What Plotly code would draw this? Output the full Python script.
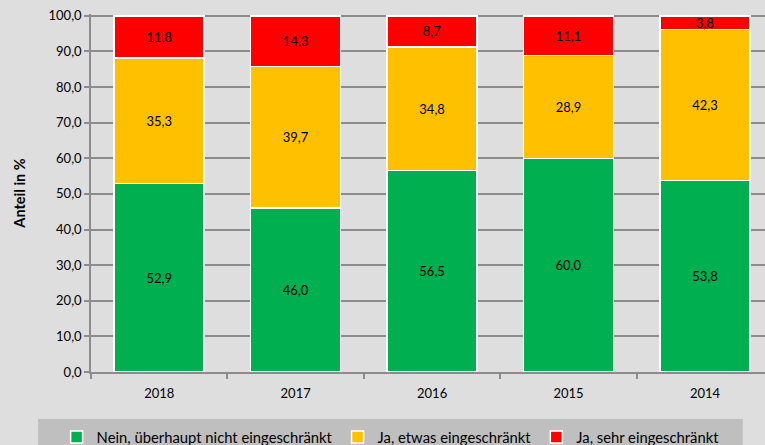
import plotly.graph_objects as go

years = ["2018", "2017", "2016", "2015", "2014"]
nein = [52.9, 46.0, 56.5, 60.0, 53.8]
etwas = [35.3, 39.7, 34.8, 28.9, 42.3]
sehr = [11.8, 14.3, 8.7, 11.1, 3.8]

names = ["Nein, überhaupt nicht eingeschränkt", "Ja, etwas eingeschränkt", "Ja, sehr eingeschränkt"]
colors = ["#00b050", "#ffc000", "#ff0000"]
series = [nein, etwas, sehr]

FONT = "Lato"
fig = go.Figure()
for name, vals, col in zip(names, series, colors):
    fig.add_trace(go.Bar(
        x=years, y=vals, name=name,
        marker=dict(color=col, line=dict(color="white", width=1.5)),
        text=[f"{v:.1f}".replace(".", ",") for v in vals],
        textposition="inside", insidetextanchor="middle",
        constraintext="none",
        textfont=dict(family=FONT, size=13, color="black"),
        width=0.66,
        hoverinfo="skip",
    ))

# legend band behind the legend
fig.add_shape(type="rect", xref="paper", yref="paper", x0=-0.0786, x1=0.967, y0=-0.1316, y1=-0.3,
              fillcolor="#bfbfbf", line=dict(width=0), layer="below")

fig.update_layout(
    barmode="stack",
    width=765, height=445,
    margin=dict(l=91, r=0, t=14, b=73),
    paper_bgcolor="#dedede", plot_bgcolor="#dedede",
    separators=",.",
    font=dict(family=FONT, size=13, color="black"),
    bargap=0.34,
    legend=dict(orientation="h", xref="container", yref="container", x=0.074, y=0.054,
                xanchor="left", yanchor="top",
                bgcolor="rgba(0,0,0,0)", font=dict(family=FONT, size=14.8),
                traceorder="normal", itemwidth=30, tracegroupgap=0),
    xaxis=dict(range=[-0.5, 4.44], showgrid=False, showline=True, linecolor="#8c8c8c", linewidth=1.5,
               ticks="outside", tickson="boundaries", tickcolor="#8c8c8c", ticklen=5, tickwidth=1.5,
               ticklabelstandoff=9,
               tickfont=dict(family=FONT, size=13), automargin=False),
    yaxis=dict(range=[0, 100.5], tickvals=[0, 10, 20, 30, 40, 50, 60, 70, 80, 90, 100], tickformat=".1f",
               showgrid=True, gridcolor="#8c8c8c", gridwidth=1.5,
               showline=True, linecolor="#8c8c8c", linewidth=1.5, ticks="outside", tickcolor="#8c8c8c",
               ticklen=5, tickwidth=1.5, zeroline=False, automargin=False,
               title=dict(text="<b>Anteil in %</b>", font=dict(family=FONT, size=14.5), standoff=19),
               tickfont=dict(family=FONT, size=13)),
)
fig.write_html("out.html", post_script="document.body.style.margin='0';",
               config={"displayModeBar": False})
